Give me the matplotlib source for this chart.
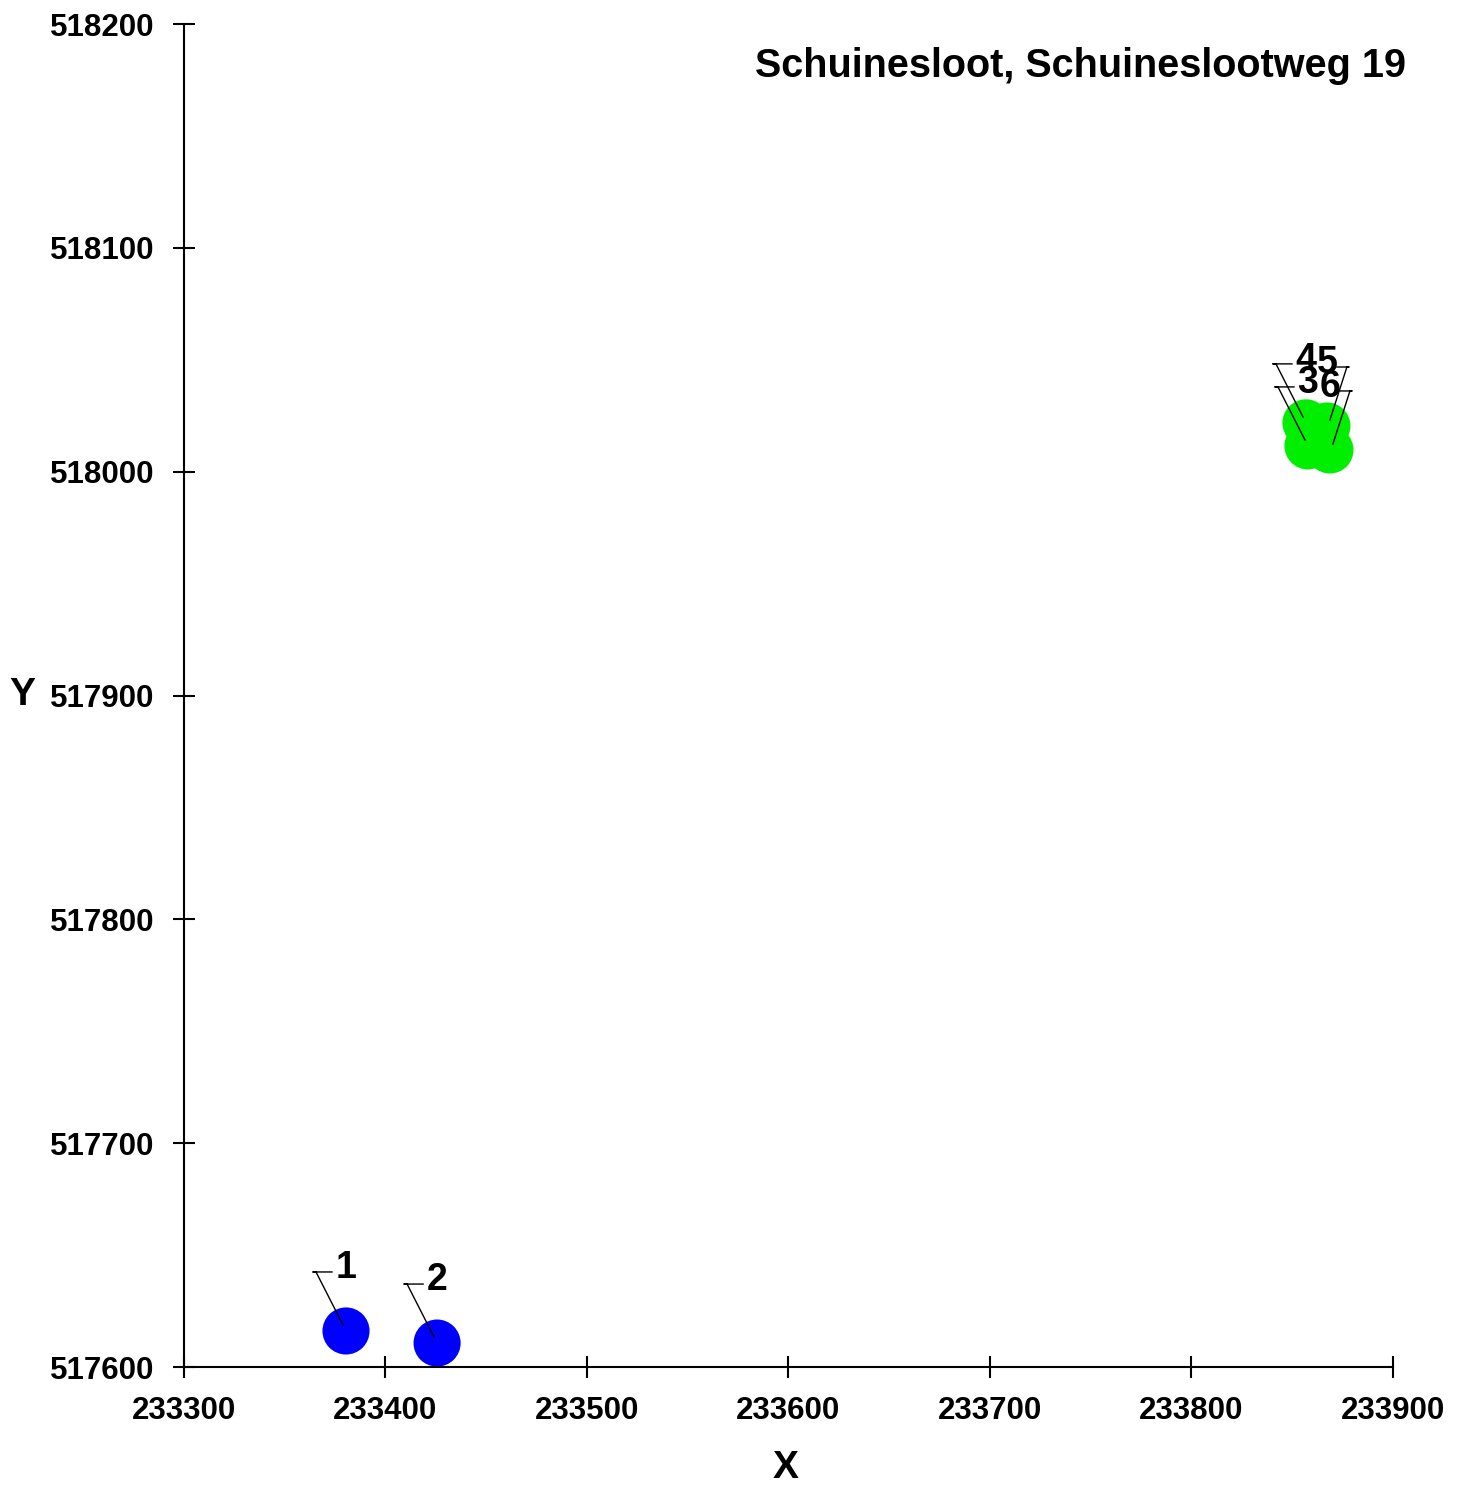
import matplotlib
matplotlib.use("Agg")
import matplotlib.pyplot as plt
from matplotlib.transforms import IdentityTransform

plt.rcParams['font.family'] = ['Liberation Sans', 'DejaVu Sans']
plt.rcParams['font.weight'] = 'bold'

# data
labels = ['1', '2', '3', '4', '5', '6']
xs = [233380.4, 233425.6, 233857.8, 233856.8, 233867.2, 233868.7]
ys = [517616.1, 517610.7, 518011.5, 518021.8, 518020.4, 518009.7]
colors = ['#0000ff', '#0000ff', '#00ee00', '#00ee00', '#00ee00', '#00ee00']
title = 'Schuinesloot, Schuinesloot' + 'weg 19'

x_ticks = [233300, 233400, 233500, 233600, 233700, 233800, 233900]
y_ticks = [517600, 517700, 517800, 517900, 518000, 518100, 518200]

# which side the label leader sits on (-1 left, +1 right)
leader_side = [-1, -1, -1, -1, 1, 1]

fig = plt.figure(figsize=(14.66, 14.91), dpi=100)
ax = fig.add_axes([184 / 1466, 1 - 1367 / 1491, 1209 / 1466, 1343 / 1491])

ax.scatter(xs, ys, s=1150, c=colors, edgecolors='none', zorder=2)

ax.set_xlim(233300, 233900)
ax.set_ylim(517600, 518200)

# labels with leader lines, offsets in pixels (display coords, y up)
for lab, x, y, sd in zip(labels, xs, ys, leader_side):
    cx, cy = ax.transData.transform((x, y))
    if sd < 0:
        lx = [cx - 3, cx - 30, cx - 33, cx - 14]
    else:
        lx = [cx + 3, cx + 20, cx + 22, cx + 10]
    ax.plot(lx, [cy + 6, cy + 59, cy + 59, cy + 59],
            color='black', lw=1.0, transform=IdentityTransform(), zorder=3,
            clip_on=False)
    ax.annotate(lab, xy=(x, y), xytext=(0, 63), textcoords='offset pixels',
                ha='center', va='center', fontsize=27, fontweight='bold', zorder=4)

ax.set_xticks(x_ticks)
ax.set_yticks(y_ticks)
ax.set_xticklabels([str(v) for v in x_ticks])
ax.set_yticklabels([str(v) for v in y_ticks])

for s in ['top', 'right']:
    ax.spines[s].set_visible(False)
for s in ['left', 'bottom']:
    ax.spines[s].set_linewidth(1.5)

ax.tick_params(direction='inout', length=16, width=1.5, labelsize=22.5)
ax.tick_params(axis='x', pad=13)
ax.tick_params(axis='y', pad=13)
for t in ax.get_xticklabels() + ax.get_yticklabels():
    t.set_fontweight('bold')

fig.text(1406 / 1466, 1 - 66 / 1491, title, ha='right', va='center', fontsize=28.5, fontweight='bold')
fig.text(786 / 1466, 1 - 1468 / 1491, 'X', ha='center', va='center', fontsize=28, fontweight='bold')
fig.text(22 / 1466, 1 - 695 / 1491, 'Y', ha='center', va='center', fontsize=28, fontweight='bold')

fig.savefig('out.png', dpi=100)
